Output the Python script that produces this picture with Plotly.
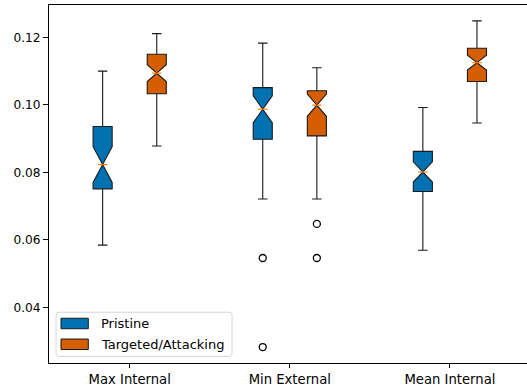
import plotly.graph_objects as go

categories = ["Max Internal", "Min External", "Mean Internal"]
series_names = ["Pristine", "Targeted/Attacking"]

pristine_q1 = [0.0751, 0.0898, 0.0743]
pristine_median = [0.0823, 0.0987, 0.0801]
pristine_q3 = [0.0936, 0.1051, 0.0862]
pristine_low = [0.0584, 0.0721, 0.0569]
pristine_high = [0.1100, 0.1183, 0.0992]
pristine_notch = [0.0053, 0.0040, 0.0030]
pristine_outlier_group = [1, 1]
pristine_outliers = [0.0546, 0.0282]

attack_q1 = [0.1033, 0.0908, 0.1069]
attack_median = [0.1094, 0.0999, 0.1125]
attack_q3 = [0.1150, 0.1042, 0.1168]
attack_low = [0.0878, 0.0721, 0.0946]
attack_high = [0.1211, 0.1110, 0.1249]
attack_notch = [0.0025, 0.0033, 0.0022]
attack_outlier_group = [1, 1]
attack_outliers = [0.0647, 0.0546]

y_ticks = [0.04, 0.06, 0.08, 0.10, 0.12]
y_tick_labels = ["0.04", "0.06", "0.08", "0.10", "0.12"]

colors = ["#0072B2", "#D55E00"]
offsets = [-0.169, 0.169]
box_w = 0.119

# plot area in pixels
W, H = 527, 390
L, R, T, B = 49, 527, 5, 363.3


def px(x):
    return (x - L) / (R - L)


def py(y):
    return (B - y) / (B - T)


fig = go.Figure()

stats = [
    (pristine_q1, pristine_median, pristine_q3, pristine_low, pristine_high, pristine_notch,
     pristine_outlier_group, pristine_outliers),
    (attack_q1, attack_median, attack_q3, attack_low, attack_high, attack_notch,
     attack_outlier_group, attack_outliers),
]

for s, (q1, med, q3, lo, hi, nt, og, ov) in enumerate(stats):
    xs = [i + offsets[s] for i in range(len(categories))]
    fig.add_trace(go.Box(
        x=xs, q1=q1, median=med, q3=q3, lowerfence=lo, upperfence=hi,
        notchspan=nt, notched=True, notchwidth=0.5, width=box_w,
        whiskerwidth=0.5, boxpoints=False,
        fillcolor=colors[s], line=dict(color="#1a1a1a", width=1.1),
        name=series_names[s], showlegend=False,
    ))

for s, (q1, med, q3, lo, hi, nt, og, ov) in enumerate(stats):
    xs = [i + offsets[s] for i in range(len(categories))]
    mx, my = [], []
    for x, m in zip(xs, med):
        mx += [x - box_w / 4, x + box_w / 4, None]
        my += [m, m, None]
    fig.add_trace(go.Scatter(x=mx, y=my, mode="lines",
                             line=dict(color="#ff7f0e", width=1.2),
                             showlegend=False, hoverinfo="skip"))
    fig.add_trace(go.Scatter(
        x=[g + offsets[s] for g in og], y=ov, mode="markers",
        marker=dict(symbol="circle-open", size=7, color="black",
                    line=dict(width=1.3, color="black")),
        showlegend=False))

# manual legend (matplotlib style)
lx0, lx1, ly0, ly1, r = 56, 232, 312.5, 356.7, 3
path = (f"M {px(lx0 + r)},{py(ly0)} L {px(lx1 - r)},{py(ly0)} "
        f"Q {px(lx1)},{py(ly0)} {px(lx1)},{py(ly0 + r)} "
        f"L {px(lx1)},{py(ly1 - r)} Q {px(lx1)},{py(ly1)} {px(lx1 - r)},{py(ly1)} "
        f"L {px(lx0 + r)},{py(ly1)} Q {px(lx0)},{py(ly1)} {px(lx0)},{py(ly1 - r)} "
        f"L {px(lx0)},{py(ly0 + r)} Q {px(lx0)},{py(ly0)} {px(lx0 + r)},{py(ly0)} Z")
shapes = [dict(type="path", xref="paper", yref="paper", path=path,
               fillcolor="rgba(255,255,255,0.8)", line=dict(color="#d6d6d6", width=1))]
annotations = []
patch_rows = [(318.5, 329), (339.3, 349.8)]
for s, (y0, y1) in enumerate(patch_rows):
    shapes.append(dict(type="rect", xref="paper", yref="paper",
                       x0=px(61), x1=px(88.3), y0=py(y1), y1=py(y0),
                       fillcolor=colors[s], line=dict(color="#1a1a1a", width=1)))
    annotations.append(dict(xref="paper", yref="paper", x=px(99), y=py((y0 + y1) / 2),
                            xanchor="left", yanchor="middle", showarrow=False,
                            text=series_names[s], font=dict(size=13, color="black")))

fig.update_layout(
    width=W, height=H,
    margin=dict(l=L, r=W - R, t=T, b=H - B, autoexpand=False),
    paper_bgcolor="white", plot_bgcolor="white",
    font=dict(family="DejaVu Sans", size=12, color="black"),
    boxmode="overlay",
    showlegend=False,
    shapes=shapes,
    annotations=annotations,
    xaxis=dict(range=[-0.504, 2.4815], tickmode="array",
               tickvals=list(range(len(categories))), ticktext=categories,
               tickfont=dict(size=13.2),
               showgrid=False, zeroline=False, showline=True, linecolor="black",
               linewidth=1, mirror=True, ticks="outside", ticklen=4,
               tickcolor="black"),
    yaxis=dict(range=[0.02347, 0.1296], tickmode="array", tickvals=y_ticks,
               ticktext=y_tick_labels, tickfont=dict(size=12.2),
               showgrid=False, zeroline=False, showline=True, linecolor="black",
               linewidth=1, ticks="outside", ticklen=5, tickcolor="black"),
)

fig.write_html("out.html", config={"displayModeBar": False},
               post_script="document.body.style.margin='0';")
